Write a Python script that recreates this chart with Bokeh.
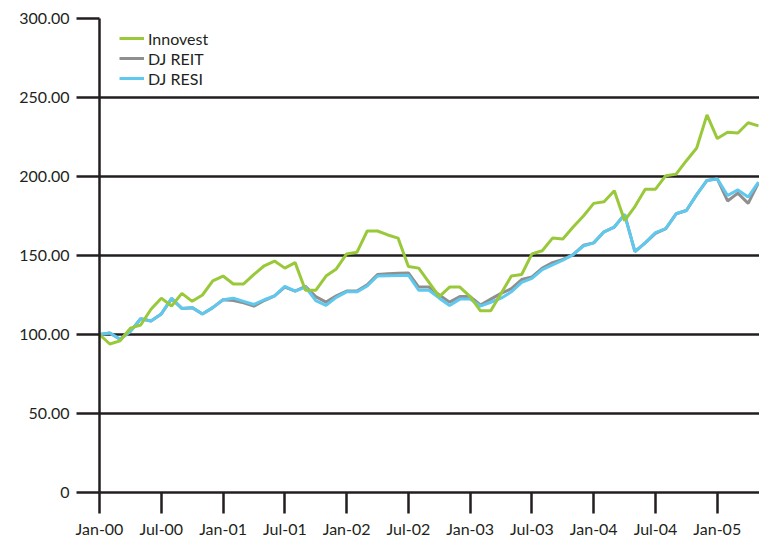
from bokeh.plotting import figure
from bokeh.models import Range1d, FixedTicker, Legend, LegendItem, ColumnDataSource
from bokeh.embed import file_html
from bokeh.resources import INLINE

# ---------------- data ----------------
months = list(range(65))  # Jan-00 .. May-05

innovest = [100, 94, 96, 104, 106, 116, 123, 118, 126, 121, 125, 134,
            137, 132, 132, 138, 143.5, 146.5, 142, 145.5, 128, 128, 137, 141.5,
            151, 152, 165.5, 165.5, 163, 161, 143, 142, 133, 124, 130, 130,
            124, 115, 115, 126, 137, 138, 151, 153, 161, 160.5, 168, 175,
            183, 184, 191, 172, 181, 192, 192, 200.5, 201.5, 210, 218, 239,
            224, 228, 227.5, 234, 232]

dj_reit = [100, 101, 97, 102, 110, 108.5, 113, 122.5, 116.5, 117, 113, 117,
           122, 121.5, 120, 118, 121.5, 124.5, 130, 127.5, 130.5, 124, 120.5, 124.5,
           127.5, 127.5, 131.5, 138, 138.5, 138.8, 139, 130, 130, 125, 120.5, 124,
           124, 118.7, 122.4, 126, 129, 134.8, 136.5, 142, 145.5, 147.5, 150.5, 156.5,
           158, 165, 168, 176, 152.5, 158, 164, 167, 176.4, 178.5, 188.5, 197.5,
           198.5, 184.5, 189.5, 183, 196]

dj_resi = [100, 101, 97, 102, 110, 108.5, 113, 123, 116.5, 117, 113, 117,
           122, 123, 121, 119, 122, 124.5, 130.5, 127.5, 130, 121.5, 118.5, 123.5,
           127, 127, 130.7, 137, 137.2, 137.3, 137.5, 128, 128, 123, 118.3, 122.4,
           122.4, 118, 120.4, 123, 127, 133, 135.5, 141, 144, 147, 150.5, 156,
           158, 165, 168, 176, 152.5, 158, 164.5, 167, 176.4, 178.5, 188.5, 197.5,
           198.5, 188, 191.5, 187, 196.5]

x_tick_months = [0, 6, 12, 18, 24, 30, 36, 42, 48, 54, 60]
x_tick_labels = ["Jan-00", "Jul-00", "Jan-01", "Jul-01", "Jan-02", "Jul-02",
                 "Jan-03", "Jul-03", "Jan-04", "Jul-04", "Jan-05"]
y_ticks = [0, 50, 100, 150, 200, 250, 300]
y_tick_labels = ["0", "50.00", "100.00", "150.00", "200.00", "250.00", "300.00"]

series_names = ["Innovest", "DJ REIT", "DJ RESI"]
series_colors = ["#99c93a", "#8f8f8f", "#5fc8ee"]

# ---------------- styling ----------------
INK = "#231f20"
FONT = "Lato"
FS = "16px"
LW_AXIS = 2.5

p = figure(width=759, height=540, output_backend="svg", toolbar_location=None,
           x_range=Range1d(0, 64.1), y_range=Range1d(0, 300),
           min_border_left=99, min_border_right=0, min_border_top=18,
           min_border_bottom=44)
p.outline_line_color = None
p.background_fill_color = "white"
p.border_fill_color = "white"

src = ColumnDataSource(dict(m=months, inn=innovest, reit=dj_reit, resi=dj_resi))
r_reit = p.line("m", "reit", source=src, line_color=series_colors[1], line_width=3)
r_resi = p.line("m", "resi", source=src, line_color=series_colors[2], line_width=3)
r_inn = p.line("m", "inn", source=src, line_color=series_colors[0], line_width=3)

# grid
p.xgrid.visible = False
p.ygrid.ticker = FixedTicker(ticks=y_ticks)
p.ygrid.grid_line_color = INK
p.ygrid.grid_line_width = LW_AXIS

# y axis
ya = p.yaxis[0]
ya.ticker = FixedTicker(ticks=y_ticks)
ya.major_label_overrides = {t: l for t, l in zip(y_ticks, y_tick_labels)}
ya.bounds = (0, 300)
ya.axis_line_color = INK
ya.axis_line_width = LW_AXIS
ya.major_tick_line_color = INK
ya.major_tick_line_width = LW_AXIS
ya.major_tick_out = 23
ya.major_tick_in = 0
ya.minor_tick_line_color = None
ya.major_label_standoff = 7
ya.major_label_text_font = FONT
ya.major_label_text_font_size = FS
ya.major_label_text_color = INK

# x axis
xa = p.xaxis[0]
xa.ticker = FixedTicker(ticks=x_tick_months)
xa.major_label_overrides = {t: l for t, l in zip(x_tick_months, x_tick_labels)}
xa.axis_line_color = INK
xa.axis_line_width = LW_AXIS
xa.major_tick_line_color = INK
xa.major_tick_line_width = LW_AXIS
xa.major_tick_out = 21
xa.major_tick_in = 0
xa.minor_tick_line_color = None
xa.major_label_standoff = 5
xa.major_label_text_font = FONT
xa.major_label_text_font_size = FS
xa.major_label_text_color = INK

# legend
legend = Legend(items=[LegendItem(label=series_names[0], renderers=[r_inn]),
                       LegendItem(label=series_names[1], renderers=[r_reit]),
                       LegendItem(label=series_names[2], renderers=[r_resi])],
                location=(20, 404), margin=0, padding=0, spacing=0,
                glyph_width=25, glyph_height=20, label_height=20,
                label_standoff=4,
                label_text_font=FONT, label_text_font_size=FS,
                label_text_color=INK,
                background_fill_alpha=0, border_line_color=None)
p.add_layout(legend)

open("out.html", "w").write(file_html(p, INLINE))
